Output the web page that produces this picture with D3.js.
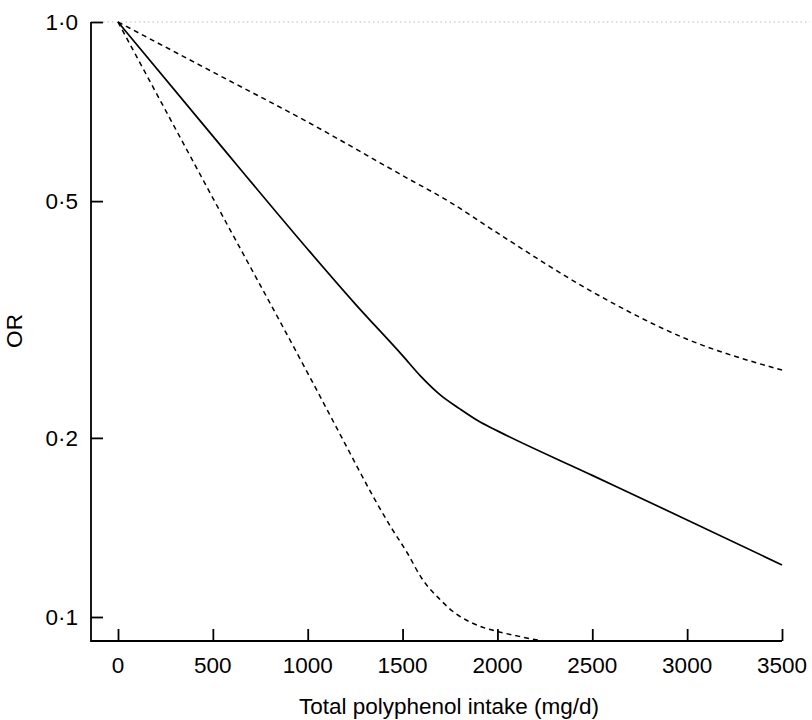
<!DOCTYPE html>
<html>
<head>
<meta charset="utf-8">
<script src="https://cdn.jsdelivr.net/npm/d3@7"></script>
<style>
  body { margin: 0; background: #fff; }
  text { font-family: "Liberation Sans", Arial, sans-serif; fill: #000; }
</style>
</head>
<body>
<svg id="chart" width="812" height="720"></svg>
<script>
// intake (mg/d) and odds ratios
const orPoints = [
  [0, 1.0], [500, 0.643], [1000, 0.415], [1250, 0.336], [1500, 0.275],
  [1600, 0.253], [1700, 0.236], [1800, 0.224], [1900, 0.2135], [2000, 0.2055],
  [2500, 0.173], [3000, 0.1456], [3500, 0.1223]
];
const upperPoints = [
  [0, 1.0], [500, 0.824], [1000, 0.679], [1500, 0.552], [1750, 0.498],
  [2000, 0.442], [2500, 0.352], [3000, 0.293], [3500, 0.260]
];
const lowerPoints = [
  [0, 1.0], [500, 0.506], [1000, 0.257], [1195, 0.196], [1275, 0.1753],
  [1355, 0.1573], [1435, 0.1422], [1525, 0.1281], [1600, 0.1163], [1700, 0.1068],
  [1775, 0.1016], [1855, 0.0981], [1935, 0.0958], [2015, 0.0943], [2120, 0.0927],
  [2225, 0.0913], [2330, 0.0902]
];
const xTicks = [0, 500, 1000, 1500, 2000, 2500, 3000, 3500];
const yTicks = [0.1, 0.2, 0.5, 1.0];

const svg = d3.select("#chart");
const plotLeft = 91, plotBottom = 641, plotTop = 22;

const x = d3.scaleLinear().domain([0, 3500]).range([118, 782]);
const y = d3.scaleLog().domain([Math.pow(10, -619 / 595), 1]).range([plotBottom, plotTop]);

const fmt = (v) => v.toFixed(1).replace(".", "\u00b7");

svg.append("defs").append("clipPath").attr("id", "plot-clip")
  .append("rect").attr("x", plotLeft).attr("y", 0)
  .attr("width", 812 - plotLeft).attr("height", plotBottom);

// reference line at OR = 1
svg.append("line")
  .attr("x1", 103).attr("x2", 810)
  .attr("y1", y(1)).attr("y2", y(1))
  .attr("stroke", "#bbb").attr("stroke-width", 1.2)
  .attr("stroke-dasharray", "1.5,3");

const line = d3.line()
  .x((d) => x(d[0]))
  .y((d) => y(d[1]))
  .curve(d3.curveMonotoneX);

const curves = svg.append("g").attr("clip-path", "url(#plot-clip)");
curves.append("path").datum(upperPoints)
  .attr("d", line).attr("fill", "none").attr("stroke", "#000")
  .attr("stroke-width", 1.5).attr("stroke-dasharray", "5,4");
curves.append("path").datum(lowerPoints)
  .attr("d", line).attr("fill", "none").attr("stroke", "#000")
  .attr("stroke-width", 1.5).attr("stroke-dasharray", "5,4");
curves.append("path").datum(orPoints)
  .attr("d", line).attr("fill", "none").attr("stroke", "#000")
  .attr("stroke-width", 1.7);

// axes: ticks point inward
const yAxis = svg.append("g")
  .attr("transform", `translate(${plotLeft},0)`)
  .call(d3.axisRight(y).tickValues(yTicks).tickSize(12).tickFormat(() => ""));
const xAxis = svg.append("g")
  .attr("transform", `translate(0,${plotBottom})`)
  .call(d3.axisTop(x).tickValues(xTicks).tickSize(12).tickFormat(() => ""));

[yAxis, xAxis].forEach((g) => {
  g.select(".domain").remove();
  g.selectAll(".tick line").attr("stroke", "#000").attr("stroke-width", 1.8);
});

svg.append("path")
  .attr("d", `M${plotLeft},${plotTop}V${plotBottom}H${x(3500)}`)
  .attr("fill", "none").attr("stroke", "#000").attr("stroke-width", 1.8);

svg.append("g").selectAll("text").data(yTicks).join("text")
  .attr("x", 78).attr("y", (d) => y(d) + 8)
  .attr("text-anchor", "end").attr("font-size", 22.5)
  .text(fmt);

svg.append("g").selectAll("text").data(xTicks).join("text")
  .attr("x", (d) => x(d)).attr("y", 673)
  .attr("text-anchor", "middle").attr("font-size", 22.5)
  .text((d) => d);

svg.append("text")
  .attr("x", 449).attr("y", 714)
  .attr("text-anchor", "middle").attr("font-size", 22.5)
  .text("Total polyphenol intake (mg/d)");

svg.append("text")
  .attr("transform", "translate(22,331) rotate(-90)")
  .attr("text-anchor", "middle").attr("font-size", 22.5)
  .text("OR");
</script>
</body>
</html>
